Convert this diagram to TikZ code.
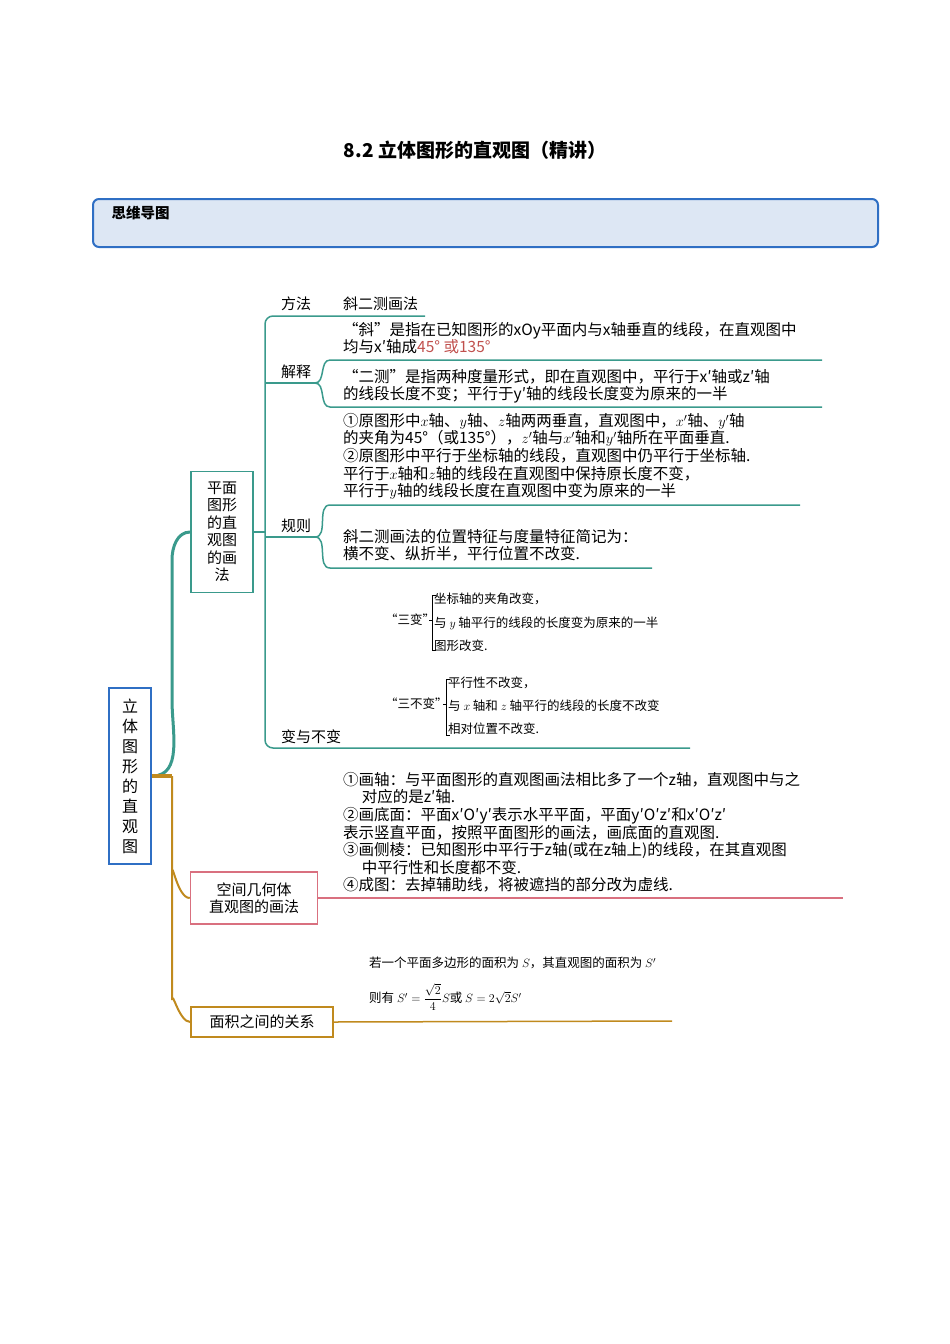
\documentclass[tikz,border=0pt]{standalone}
\usepackage{fontspec}
\setmainfont{Liberation Serif}
\newfontfamily\cjk{Noto Sans CJK SC}
\usetikzlibrary{positioning}
\definecolor{teal1}{HTML}{3A9A8C}
\definecolor{gold1}{HTML}{C08A1E}
\definecolor{pink1}{HTML}{D9707F}
\definecolor{blue1}{HTML}{2F6FC4}
\definecolor{red1}{HTML}{C0504D}
\definecolor{fill1}{HTML}{DDE7F4}
\tikzset{
  txt/.style={anchor=north west,inner sep=0pt,align=left,font=\cjk\fontsize{15.5}{17.6}\selectfont},
  small/.style={anchor=west,inner sep=0pt,font=\cjk\fontsize{12.5}{14}\selectfont},
  lab/.style={anchor=base west,inner sep=0pt,font=\cjk\fontsize{15}{17}\selectfont},
  box/.style={draw,line width=1.5pt,inner sep=0pt,align=center},
}
\begin{document}
\begin{tikzpicture}[x=1pt,y=-1pt]
    \useasboundingbox (0,0) rectangle (950,1344);
    \path (475,150) node [font=\cjk\bfseries\fontsize{19}{22}\selectfont] (title) {8.2 立体图形的直观图（精讲）};
    \draw [blue1,line width=2pt,fill=fill1,rounded corners=6pt] (93,199) rectangle (878,247);
    \path (108,213) node [anchor=west,font=\cjk\bfseries\fontsize{14.5}{15}\selectfont] (mm) {思维导图};

    % main boxes
    \path (130,776) node [box,draw=blue1,line width=2.5pt,minimum width=42pt,minimum height=176pt,
      font=\cjk\fontsize{16}{20}\selectfont] (root) {立\\体\\图\\形\\的\\直\\观\\图};
    \path (222,532) node [box,draw=teal1,minimum width=62pt,minimum height=121pt,
      font=\cjk\fontsize{15}{17.5}\selectfont] (plane) {平面\\图形\\的直\\观图\\的画\\法};
    \path (254,898) node [box,draw=pink1,minimum width=127pt,minimum height=52pt,
      font=\cjk\fontsize{15}{17.5}\selectfont] (space) {空间几何体\\直观图的画法};
    \path (262,1022) node [box,draw=gold1,minimum width=142pt,minimum height=30pt,
      font=\cjk\fontsize{15}{17.5}\selectfont] (area) {面积之间的关系};

    \draw [teal1,line width=3pt] (root.east) to[out=0,in=270] (172,700) -- (172,560) to[out=90,in=180] (plane.west);
    \draw [gold1,line width=4pt] (root.east) -- (172,776);
    \draw [gold1,line width=2pt] (172,776) -- (172,872) to[out=90,in=180] (space.west);
    \draw [gold1,line width=2pt] (172,872) -- (172,1000) to[out=90,in=180] (area.west);

    % plane branch
    \draw [teal1,line width=2pt] (plane.east) -- (265,532);
    \draw [teal1,line width=1.5pt,rounded corners=8pt] (425,316) -- (265,316) -- (265,748) -- (690,748);
    \path (281,309) node [lab] (fa) {方法} (343,309) node [lab] (xie) {斜二测画法};
    \path (281,377) node [lab] (js) {解释} (281,531) node [lab] (gz) {规则} (281,742) node [lab] (bb) {变与不变};
    \draw [teal1,line width=1.5pt] (265,383) -- (315,383);
    \draw [teal1,line width=1.5pt] (315,383) to[out=0,in=180] (330,360) -- (822,360);
    \draw [teal1,line width=1.5pt] (315,383) to[out=0,in=180] (330,407) -- (822,407);
    \draw [teal1,line width=1.5pt] (265,537) -- (315,537);
    \draw [teal1,line width=1.5pt] (315,537) to[out=0,in=180] (330,505) -- (800,505);
    \draw [teal1,line width=1.5pt] (315,537) to[out=0,in=180] (330,568) -- (652,568);

    \path (343,322) node [txt] (xie1) {“斜”是指在已知图形的xOy平面内与x轴垂直的线段，在直观图中\\均与x′轴成\textcolor{red1}{45° 或135°}};
    \path (343,369) node [txt] (ce) {“二测”是指两种度量形式，即在直观图中，平行于x′轴或z′轴\\的线段长度不变；平行于y′轴的线段长度变为原来的一半};
    \path (343,413) node [txt] (gz1) {①原图形中$x$轴、$y$轴、$z$轴两两垂直，直观图中，$x'$轴、$y'$轴\\的夹角为45°（或135°），$z'$轴与$x'$轴和$y'$轴所在平面垂直.\\②原图形中平行于坐标轴的线段，直观图中仍平行于坐标轴.\\平行于$x$轴和$z$轴的线段在直观图中保持原长度不变，\\平行于$y$轴的线段长度在直观图中变为原来的一半};
    \path (343,529) node [txt] (gz2) {斜二测画法的位置特征与度量特征简记为：\\横不变、纵折半，平行位置不改变.};

    \path (385,620) node [small] (sb) {“三变”};
    \draw [thick] (436,595) -- (432,595) -- (432,650) -- (436,650) (432,620) -- (429,620);
    \path (434,599) node [small] (sb1) {坐标轴的夹角改变，};
    \path (434,623) node [small] (sb2) {与 $y$ 轴平行的线段的长度变为原来的一半};
    \path (434,646) node [small] (sb3) {图形改变.};
    \path (385,704) node [small] (sbb) {“三不变”};
    \draw [thick] (450,679) -- (446,679) -- (446,735) -- (450,735) (446,704) -- (443,704);
    \path (448,683) node [small] (sbb1) {平行性不改变，};
    \path (448,706) node [small] (sbb2) {与 $x$ 轴和 $z$ 轴平行的线段的长度不改变};
    \path (448,729) node [small] (sbb3) {相对位置不改变.};

    % space branch
    \draw [pink1,line width=1.5pt] (space.east) -- (843,898);
    \path (343,772) node [txt] (sp) {①画轴：与平面图形的直观图画法相比多了一个z轴，直观图中与之\\\hspace*{1.2em}对应的是z′轴.\\②画底面：平面x′O′y′表示水平平面，平面y′O′z′和x′O′z′\\表示竖直平面，按照平面图形的画法，画底面的直观图.\\③画侧棱：已知图形中平行于z轴(或在z轴上)的线段，在其直观图\\\hspace*{1.2em}中平行性和长度都不变.\\④成图：去掉辅助线，将被遮挡的部分改为虚线.};

    % area branch
    \draw [gold1,line width=1.5pt] (area.east) -- (672,1021);
    \path (369,963) node [small] (ar1) {若一个平面多边形的面积为 $S$，其直观图的面积为 $S'$};
    \path (369,997) node [small] (ar2) {则有 $S'=\displaystyle\frac{\sqrt{2}}{4}S$或 $S=2\sqrt{2}S'$};
\end{tikzpicture}
\end{document}
